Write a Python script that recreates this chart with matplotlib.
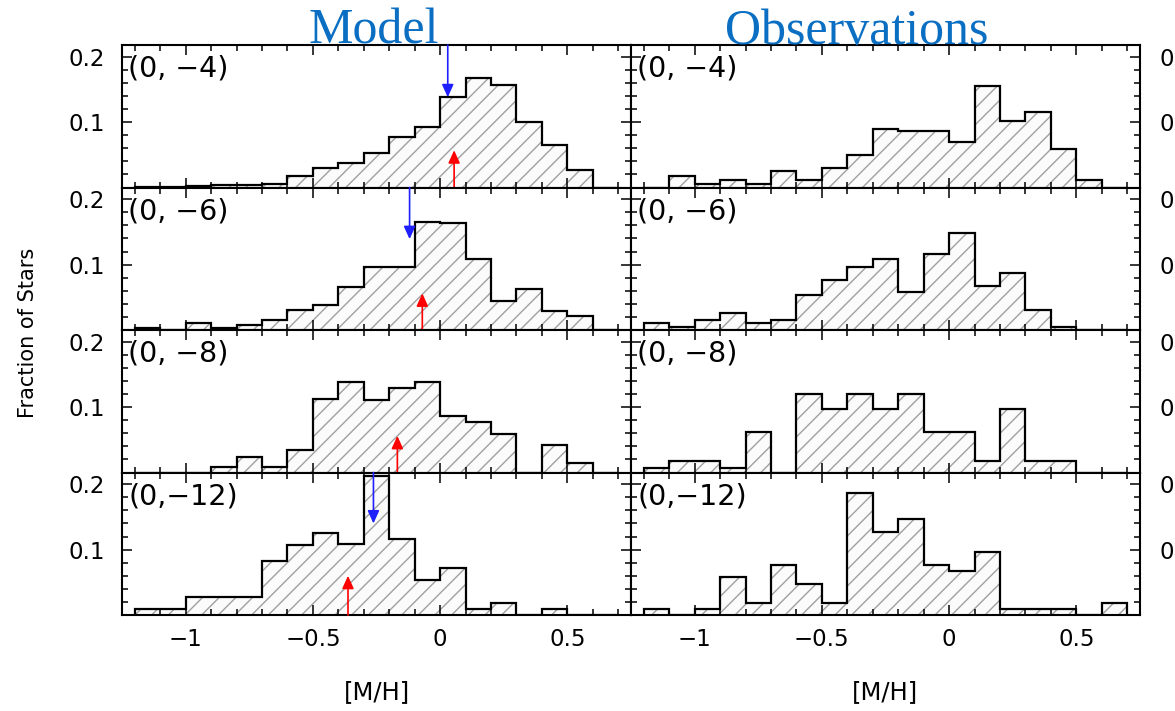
import numpy as np
import matplotlib
matplotlib.use("Agg")
import matplotlib.pyplot as plt
from matplotlib.ticker import MultipleLocator

# bin edges in [M/H]
bin_edges = [-1.2, -1.1, -1.0, -0.9, -0.8, -0.7, -0.6, -0.5, -0.4, -0.3,
             -0.2, -0.1, 0.0, 0.1, 0.2, 0.3, 0.4, 0.5, 0.6, 0.7]

fields = ["(0, \u22124)", "(0, \u22126)", "(0, \u22128)", "(0,\u221212)"]

# fraction of stars per bin, model column
model_b4 = [0.001, 0.001, 0.002, 0.004, 0.004, 0.005, 0.017, 0.0295, 0.037, 0.053,
            0.077, 0.093, 0.138, 0.167, 0.157, 0.100, 0.065, 0.027, 0.0]
model_b6 = [0.003, 0.0, 0.011, 0.003, 0.008, 0.016, 0.031, 0.039, 0.066, 0.097,
            0.097, 0.165, 0.163, 0.108, 0.044, 0.062, 0.029, 0.022, 0.0]
model_b8 = [0.0, 0.0, 0.0, 0.008, 0.024, 0.008, 0.034, 0.112, 0.138, 0.111,
            0.129, 0.138, 0.086, 0.078, 0.059, 0.0, 0.042, 0.015, 0.0]
model_b12 = [0.0095, 0.0095, 0.027, 0.027, 0.027, 0.082, 0.107, 0.126, 0.108, 0.213,
             0.116, 0.054, 0.072, 0.0095, 0.018, 0.0, 0.0095, 0.0, 0.0]

# observations column
obs_b4 = [0.0, 0.017, 0.005, 0.012, 0.005, 0.026, 0.012, 0.030, 0.050, 0.090,
          0.086, 0.086, 0.070, 0.156, 0.101, 0.116, 0.059, 0.012, 0.0]
obs_b6 = [0.011, 0.005, 0.015, 0.026, 0.010, 0.015, 0.054, 0.077, 0.097, 0.108,
          0.058, 0.116, 0.148, 0.067, 0.087, 0.030, 0.004, 0.0, 0.0]
obs_b8 = [0.007, 0.018, 0.018, 0.007, 0.062, 0.0, 0.120, 0.097, 0.120, 0.097,
          0.120, 0.062, 0.062, 0.018, 0.097, 0.018, 0.018, 0.0, 0.0]
obs_b12 = [0.0085, 0.0, 0.0085, 0.058, 0.019, 0.077, 0.047, 0.018, 0.187, 0.127,
           0.147, 0.077, 0.067, 0.097, 0.0085, 0.0085, 0.0085, 0.0, 0.019]

model_rows = [model_b4, model_b6, model_b8, model_b12]
obs_rows = [obs_b4, obs_b6, obs_b8, obs_b12]

# arrows on the model panels (None = no arrow)
blue_x = [0.03, -0.12, None, -0.262]
blue_tip = [0.138, 0.139, None, 0.140]
red_x = [0.055, -0.07, -0.168, -0.362]
red_tip = [0.057, 0.056, 0.056, 0.060]

xticks = [-1.0, -0.5, 0.0, 0.5]
xtick_labels = ["\u22121", "\u22120.5", "0", "0.5"]
yticks = [0.1, 0.2]
ytick_labels = ["0.1", "0.2"]

W, H = 1175, 711
fig = plt.figure(figsize=(W / 100, H / 100), dpi=100)

x_left = [122, 631]
panel_w = 509
top_px = 45
row_h = 142.5
title_blue = "#0a6fc2"


def style_axes(ax, right_labels, bottom_labels):
    ax.set_xlim(-1.25, 0.75)
    ax.set_ylim(0, 0.218)
    for s in ax.spines.values():
        s.set_linewidth(1.5)
    ax.set_xticks(xticks)
    ax.xaxis.set_minor_locator(MultipleLocator(0.1))
    ax.set_yticks(yticks)
    ax.yaxis.set_minor_locator(MultipleLocator(0.02))
    ax.tick_params(which="both", direction="in", top=True, right=True,
                   bottom=True, left=True, width=1.1)
    ax.tick_params(which="major", length=7.5)
    ax.tick_params(which="minor", length=4.5)
    ax.tick_params(axis="x", labelsize=16.5, pad=9)
    ax.tick_params(axis="y", labelsize=16.5, pad=12)
    if bottom_labels:
        ax.set_xticklabels(xtick_labels)
    else:
        ax.set_xticklabels([])
    if right_labels:
        # labels sit past the figure edge, only the leading "0" shows
        ax.tick_params(axis="y", labelleft=False, labelright=True, pad=14)
    ax.set_yticklabels(ytick_labels)


for col in range(2):
    rows = model_rows if col == 0 else obs_rows
    for r in range(4):
        y_top = top_px + r * row_h
        rect = [x_left[col] / W, 1 - (y_top + row_h) / H, panel_w / W, row_h / H]
        ax = fig.add_axes(rect)
        vals = rows[r]
        ax.stairs(vals, bin_edges, fill=True, facecolor="#fbfbfb",
                  edgecolor="#a0a0a0", hatch="//", linewidth=0, zorder=1)
        ax.stairs(vals, bin_edges, color="black", linewidth=1.6,
                  baseline=0, zorder=2)
        style_axes(ax, right_labels=(col == 1), bottom_labels=(r == 3))
        ax.text(0.012, 0.93, fields[r], transform=ax.transAxes, fontsize=20.5,
                va="top", ha="left")
        if col == 0:
            if blue_x[r] is not None:
                ax.annotate("", xy=(blue_x[r], blue_tip[r]), xytext=(blue_x[r], 0.218),
                            arrowprops=dict(arrowstyle="-|>,head_length=0.55,head_width=0.25",
                                            color="#2020ff", lw=1.2, mutation_scale=14,
                                            shrinkA=0, shrinkB=0))
            ax.annotate("", xy=(red_x[r], red_tip[r]), xytext=(red_x[r], 0.0),
                        arrowprops=dict(arrowstyle="-|>,head_length=0.55,head_width=0.25",
                                        color="#ff0000", lw=1.2, mutation_scale=14,
                                        shrinkA=0, shrinkB=0))
        if r == 3:
            ax.set_xlabel("[M/H]", fontsize=17.5, labelpad=21)

fig.text(374 / W, 1 - 44 / H, "Model", fontsize=36, family="Liberation Serif",
         color=title_blue, ha="center", va="baseline", zorder=5)
fig.text(857 / W, 1 - 44 / H, "Observations", fontsize=36, family="Liberation Serif",
         color=title_blue, ha="center", va="baseline", zorder=5)
fig.text(28 / W, 1 - 333 / H, "Fraction of Stars", fontsize=15, rotation=90,
         ha="center", va="center")

fig.savefig("out.png", dpi=100)
